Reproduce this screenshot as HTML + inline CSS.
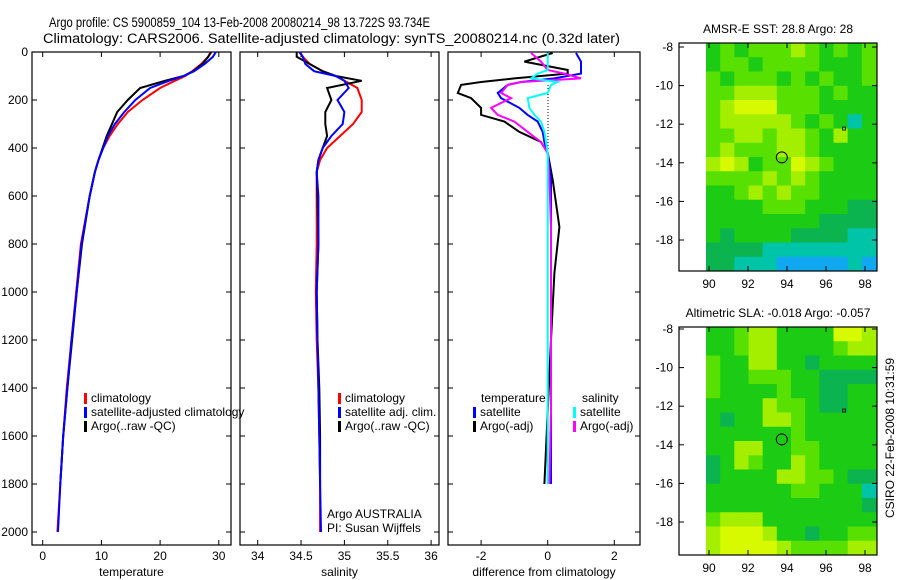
<!DOCTYPE html>
<html><head><meta charset="utf-8">
<style>
body{margin:0;background:#fff;}
svg{display:block;font-family:"Liberation Sans",sans-serif;}
text{fill:#000;font-size:12px;}
</style></head>
<body>
<svg id="chart" width="900" height="580" viewBox="0 0 900 580" xmlns="http://www.w3.org/2000/svg">
<text x="49" y="27" style="font-size:13.5px" textLength="381" lengthAdjust="spacingAndGlyphs">Argo profile: CS 5900859_104 13-Feb-2008 20080214_98 13.722S 93.734E</text>
<text x="43" y="43" style="font-size:13.5px" textLength="577" lengthAdjust="spacingAndGlyphs">Climatology: CARS2006. Satellite-adjusted climatology: synTS_20080214.nc (0.32d later)</text>
<g id="g"></g>
<text transform="translate(894,438) rotate(-90)" text-anchor="middle">CSIRO 22-Feb-2008 10:31:59</text>
</svg>
<script>
// ---- profile data ----
const depthTicks=[0,200,400,600,800,1000,1200,1400,1600,1800,2000];
const depths=[0,20,50,80,100,120,150,200,250,300,350,400,450,500,600,800,1000,1200,1400,1600,1800,2000];
const tempClim=[28.6,28.2,27.0,25.5,24.3,22.5,20.0,17.0,14.5,12.8,11.4,10.3,9.5,8.9,8.0,6.5,5.7,4.9,4.1,3.5,3.0,2.5];
const tempSat=[29.5,29.0,27.6,25.8,24.0,21.5,18.3,15.8,13.9,12.3,11.1,10.3,9.5,8.9,8.0,6.6,5.8,4.9,4.2,3.5,3.0,2.6];
const tempArgo=[28.7,28.2,27.2,25.6,24.0,20.8,16.6,14.5,12.7,11.8,10.9,10.2,9.5,8.9,8.0,6.7,5.8,5.0,4.2,3.5,3.0];
const salClim=[34.49,34.52,34.60,34.75,34.90,35.00,35.15,35.20,35.20,35.10,34.95,34.80,34.72,34.68,34.68,34.68,34.67,34.68,34.70,34.71,34.72,34.72];
const salSat=[34.48,34.52,34.55,34.65,34.90,35.00,35.05,34.92,35.00,34.98,34.85,34.75,34.70,34.68,34.70,34.70,34.68,34.69,34.70,34.71,34.72,34.73];
const salArgo=[34.45,34.45,34.60,34.75,34.90,35.20,34.80,34.85,34.78,34.78,34.80,34.75,34.70,34.68,34.69,34.70,34.68,34.69,34.71,34.72,34.72];
const diffDepths=[4,40,75,90,110,125,137,171,192,233,262,290,333,375,420,533,729,921,1200,1500,1800];
const dTempArgo=[0.15,-0.7,0.6,0.6,-1.0,-2.0,-2.6,-2.7,-2.3,-2.0,-2.0,-1.3,-0.85,-0.2,0.0,0.15,0.35,0.2,0.1,0.0,-0.1];
const dSalArgo=[-0.5,-0.2,0.0,0.5,1.0,-0.8,-1.2,-1.4,-1.1,-1.7,-1.5,-1.0,-0.6,-0.2,0.0,0.05,0.1,0.1,0.1,0.1,0.05];
const dTempSat=[0.85,1.0,1.0,1.0,0.2,-0.8,-1.2,-1.5,-1.4,-0.85,-0.6,-0.3,-0.15,-0.1,0.0,0.1,0.1,0.1,0.1,0.1,0.1];
const dSalSat=[0.0,0.0,0.0,-0.3,-0.5,0.3,0.1,0.0,-0.6,-0.55,-0.4,-0.2,-0.1,-0.05,0.0,0.0,0.0,0.0,0.0,0.0,0.0];
const tempTicks=[0,10,20,30];
const salTicks=[34,34.5,35,35.5,36];
const diffTicks=[-2,0,2];
// ---- map data ----
const lonTicks=[90,92,94,96,98];
const latTicks=[-8,-10,-12,-14,-16,-18];
const sstGrid=["343444543434","344344443334","434443434334","445554443433","456664443333","455555434313","445545543533","454445543333","565344654333","444454543333","334545443333","333344433322","333333332222","323333222211","222211111111","221110000010"];
const slaGrid=["334553333665","334553333455","433553323333","433444332222","433334332233","333354432233","323355433333","333333433333","335533443333","235433543333","233335544322","333333443331","333333333332","455533333333","566653323344","566665444455"];
const palette=["#10a8f0","#00c4a8","#0cb450","#1ccc14","#58e000","#a4ee00","#d8fa00"];
const argoPos=[93.734,-13.722];

const NS="http://www.w3.org/2000/svg";
const G=document.getElementById('g');
function mk(tag,attrs,parent){const e=document.createElementNS(NS,tag);for(const k in attrs)e.setAttribute(k,attrs[k]);(parent||G).appendChild(e);return e;}
function txt(x,y,s,anchor,parent){const t=mk('text',{x:x,y:y,'text-anchor':anchor||'start'},parent);t.textContent=s;return t;}
const yD=d=>52+d*0.24;

function panel(name,x0,x1,xf,ticks,fmt,label,showY){
  const g=mk('g',{});
  
  
  const r=mk('rect',{x:x0,y:52,width:x1-x0,height:493,fill:'none',stroke:'#000','stroke-width':1.2},g);
  
  
  depthTicks.forEach(d=>{const y=yD(d);
    mk('line',{x1:x0,x2:x0+5,y1:y,y2:y,stroke:'#000'},g);
    mk('line',{x1:x1-5,x2:x1,y1:y,y2:y,stroke:'#000'},g);
    if(showY){const t=txt(x0-4,y+4,String(d),'end',g);
      
      }
  });
  ticks.forEach(v=>{const x=xf(v);
    mk('line',{x1:x,x2:x,y1:52,y2:57,stroke:'#000'},g);
    mk('line',{x1:x,x2:x,y1:540,y2:545,stroke:'#000'},g);
    const t=txt(x,560,fmt(v),'middle',g);
    
    
  });
  const l=txt((x0+x1)/2,576,label,'middle',g);
  
  
  return g;
}
function line(g,xs,ds,xf,color,w,name){
  const pts=xs.map((v,i)=>xf(v).toFixed(1)+','+yD(ds[i]).toFixed(1)).join(' ');
  const p=mk('polyline',{points:pts,fill:'none',stroke:color,'stroke-width':w},g);
  
  
}
function legend(g,x,y,color,s){
  mk('rect',{x:x,y:y-9,width:3,height:11,fill:color},g);
  const t=txt(x+7,y,s,'start',g);
  
  
}
const xT=v=>42.7+v*5.87;
const p1=panel('temperature-panel',32,231,xT,tempTicks,String,'temperature',true);
line(p1,tempClim,depths,xT,'#f00',2,'temp-climatology-line');
line(p1,tempArgo,depths,xT,'#000',2,'temp-argo-line');
line(p1,tempSat,depths,xT,'#00f',2,'temp-satellite-line');
legend(p1,84,402,'#f00','climatology');
legend(p1,84,416,'#00f','satellite-adjusted climatology');
legend(p1,84,430,'#000','Argo(..raw -QC)');
const xS=v=>257.7+(v-34)*86.7;
const p2=panel('salinity-panel',240,439,xS,salTicks,String,'salinity',false);
line(p2,salClim,depths,xS,'#f00',2,'sal-climatology-line');
line(p2,salArgo,depths,xS,'#000',2,'sal-argo-line');
line(p2,salSat,depths,xS,'#00f',2,'sal-satellite-line');
legend(p2,338,402,'#f00','climatology');
legend(p2,338,416,'#00f','satellite adj. clim.');
legend(p2,338,430,'#000','Argo(..raw -QC)');
const a1=txt(327,518,'Argo AUSTRALIA','start',p2);


const a2=txt(327,532,'PI: Susan Wijffels','start',p2);


const xD=v=>547.7+v*33.3;
const p3=panel('difference-panel',448,640,xD,diffTicks,v=>String(v),'difference from climatology',false);
mk('line',{x1:548,x2:548,y1:85,y2:160,stroke:'#000','stroke-dasharray':'1,2'},p3);
line(p3,dTempArgo,diffDepths,xD,'#000',2,'diff-temp-argo-line');
line(p3,dTempSat,diffDepths,xD,'#00f',2,'diff-temp-satellite-line');
line(p3,dSalArgo,diffDepths,xD,'#f0f',2,'diff-sal-argo-line');
line(p3,dSalSat,diffDepths,xD,'#0ff',2,'diff-sal-satellite-line');
txt(481,402,'temperature','start',p3);
txt(582,402,'salinity','start',p3);
legend(p3,473,416,'#00f','satellite');
legend(p3,473,430,'#000','Argo(-adj)');
legend(p3,573,416,'#0ff','satellite');
legend(p3,573,430,'#f0f','Argo(-adj)');

function map(name,top,lat8,grid,title){
  const g=mk('g',{});
  
  
  const L=v=>709+(v-90)*19.5;
  const B=v=>lat8+(-8-v)*19.3;
  const bottom=top+228;
  const rows=grid.length, cols=grid[0].length;
  const x0=706,x1=876,cw=(x1-x0)/cols,ch=(bottom-top)/rows;
  grid.forEach((row,j)=>{[...row].forEach((c,i)=>{
    const r=mk('rect',{x:(x0+i*cw).toFixed(2),y:(top+j*ch).toFixed(2),width:(cw+0.5).toFixed(2),height:(ch+0.5).toFixed(2),fill:palette[+c]},g);
    
    
  });});
  const f=mk('rect',{x:679,y:top,width:198,height:228,fill:'none',stroke:'#000','stroke-width':1.2},g);
  
  
  lonTicks.forEach(v=>{const x=L(v);
    mk('line',{x1:x,x2:x,y1:top,y2:top+5,stroke:'#000'},g);
    mk('line',{x1:x,x2:x,y1:bottom-5,y2:bottom,stroke:'#000'},g);
    const t=txt(x,bottom+17,String(v),'middle',g);
    
    });
  latTicks.forEach(v=>{const y=B(v);
    mk('line',{x1:679,x2:684,y1:y,y2:y,stroke:'#000'},g);
    mk('line',{x1:872,x2:877,y1:y,y2:y,stroke:'#000'},g);
    const t=txt(673,y+4,String(v),'end',g);
    
    });
  const c=mk('circle',{cx:L(argoPos[0]),cy:B(argoPos[1]),r:5.5,fill:'none',stroke:'#000'},g);
  
  
  mk('rect',{x:L(96.9)-1,y:B(-12.2)-1,width:3,height:3,fill:'none',stroke:'#000','stroke-width':0.8},g);
  const t=txt(778,top-10,title,'middle',g);
  
  
}
map('sst-map',43,47,sstGrid,'AMSR-E SST: 28.8 Argo: 28');
map('sla-map',327,329,slaGrid,'Altimetric SLA: -0.018 Argo: -0.057');
</script>
</body></html>
